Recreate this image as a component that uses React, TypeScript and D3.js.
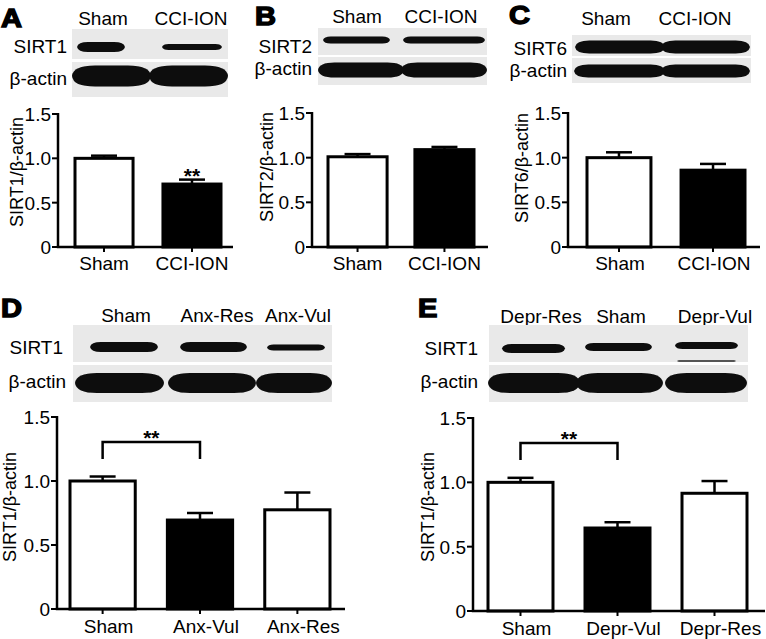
import React from "react";
import * as d3 from "d3";

const FONT = "'Liberation Sans', Arial, Helvetica, sans-serif";

// ---------- data ----------
const catsA = ["Sham", "CCI-ION"];
const valsA = [1.0, 0.71];
const errA = [0.03, 0.05];

const catsB = ["Sham", "CCI-ION"];
const valsB = [1.01, 1.09];
const errB = [0.03, 0.03];

const catsC = ["Sham", "CCI-ION"];
const valsC = [1.0, 0.86];
const errC = [0.06, 0.07];

const catsD = ["Sham", "Anx-Vul", "Anx-Res"];
const valsD = [1.0, 0.695, 0.775];
const errD = [0.035, 0.055, 0.135];

const catsE = ["Sham", "Depr-Vul", "Depr-Res"];
const valsE = [1.0, 0.645, 0.915];
const errE = [0.035, 0.045, 0.095];

const fills2 = ["white", "black"];
const fills3 = ["white", "black", "white"];

const yTickValues = [0, 0.5, 1.0, 1.5];
const yTickLabels = ["0", "0.5", "1.0", "1.5"];

const headersA = ["Sham", "CCI-ION"];
const headersD = ["Sham", "Anx-Res", "Anx-Vul"];
const headersE = ["Depr-Res", "Sham", "Depr-Vul"];

// ---------- layout ----------
type Panel = {
  cats: string[]; vals: number[]; errs: number[]; fills: string[];
  axisX0: number; axisX1: number; barStart: number; barEnd: number; pad: number;
  yZero: number; yTop: number; title: string; titleX: number; titleY: number;
  labelDy: number; labelDx: number; sig?: { from: number; to: number; y: number; leg: number; textY: number } | { bar: number; textY: number };
};

const panels: Panel[] = [
  { cats: catsA, vals: valsA, errs: errA, fills: fills2, axisX0: 58, axisX1: 233, barStart: 75, barEnd: 221, pad: 0.34,
    yZero: 247, yTop: 114, title: "SIRT1/β-actin", titleX: 17, titleY: 172, labelDy: 23, labelDx: 0, sig: { bar: 1, textY: 183 } },
  { cats: catsB, vals: valsB, errs: errB, fills: fills2, axisX0: 312, axisX1: 488, barStart: 328, barEnd: 474, pad: 0.32,
    yZero: 247, yTop: 113, title: "SIRT2/β-actin", titleX: 267, titleY: 167, labelDy: 23, labelDx: 0 },
  { cats: catsC, vals: valsC, errs: errC, fills: fills2, axisX0: 568, axisX1: 760, barStart: 587, barEnd: 745, pad: 0.32,
    yZero: 247, yTop: 113, title: "SIRT6/β-actin", titleX: 522, titleY: 168, labelDy: 23, labelDx: 1 },
  { cats: catsD, vals: valsD, errs: errD, fills: fills3, axisX0: 57, axisX1: 345, barStart: 70, barEnd: 330, pad: 0.33,
    yZero: 609, yTop: 417, title: "SIRT1/β-actin", titleX: 10, titleY: 507, labelDy: 24, labelDx: 6,
    sig: { from: 0, to: 1, y: 442, leg: 17, textY: 445 } },
  { cats: catsE, vals: valsE, errs: errE, fills: fills3, axisX0: 473, axisX1: 765, barStart: 488, barEnd: 747, pad: 0.33,
    yZero: 611, yTop: 418, title: "SIRT1/β-actin", titleX: 428, titleY: 507, labelDy: 24, labelDx: 6,
    sig: { from: 0, to: 1, y: 443, leg: 17, textY: 446 } },
];

type Band = { x0: number; x1: number; yc: number; h: number };
type Strip = { label: string; x0: number; x1: number; y0: number; y1: number; labelX: number; labelY: number; bands: Band[] };
type Blot = { letter: string; letterX: number; letterY: number; headers: string[]; headerX: number[]; headerY: number; strips: Strip[] };

const blots: Blot[] = [
  { letter: "A", letterX: 1, letterY: 27, headers: headersA, headerX: [103, 191], headerY: 25,
    strips: [
      { label: "SIRT1", x0: 72, x1: 228, y0: 29, y1: 59, labelX: 67, labelY: 53,
        bands: [{ x0: 77, x1: 125, yc: 47, h: 10 }, { x0: 162, x1: 222, yc: 47, h: 6 }] },
      { label: "β-actin", x0: 72, x1: 228, y0: 62, y1: 97, labelX: 67, labelY: 85,
        bands: [{ x0: 72, x1: 151, yc: 76, h: 21 }, { x0: 149, x1: 228, yc: 76, h: 21 }] },
    ] },
  { letter: "B", letterX: 255, letterY: 25, headers: headersA, headerX: [357, 441], headerY: 23,
    strips: [
      { label: "SIRT2", x0: 318, x1: 487, y0: 28, y1: 55, labelX: 312, labelY: 53,
        bands: [{ x0: 323, x1: 390, yc: 40, h: 7 }, { x0: 403, x1: 485, yc: 40, h: 7 }] },
      { label: "β-actin", x0: 318, x1: 487, y0: 57, y1: 85, labelX: 312, labelY: 75,
        bands: [{ x0: 318, x1: 404, yc: 70, h: 15 }, { x0: 401, x1: 487, yc: 70, h: 15 }] },
    ] },
  { letter: "C", letterX: 509, letterY: 24, headers: headersA, headerX: [606, 695], headerY: 25,
    strips: [
      { label: "SIRT6", x0: 572, x1: 751, y0: 35, y1: 56, labelX: 567, labelY: 55,
        bands: [{ x0: 575, x1: 665, yc: 47, h: 13 }, { x0: 661, x1: 750, yc: 47, h: 13 }] },
      { label: "β-actin", x0: 572, x1: 751, y0: 58, y1: 83, labelX: 567, labelY: 77,
        bands: [{ x0: 574, x1: 665, yc: 71, h: 13 }, { x0: 661, x1: 750, yc: 71, h: 13 }] },
    ] },
  { letter: "D", letterX: 1, letterY: 317, headers: headersD, headerX: [126, 217, 298], headerY: 322,
    strips: [
      { label: "SIRT1", x0: 73, x1: 332, y0: 325, y1: 362, labelX: 63, labelY: 354,
        bands: [{ x0: 90, x1: 158, yc: 347, h: 10 }, { x0: 180, x1: 247, yc: 347, h: 10 }, { x0: 267, x1: 325, yc: 347.5, h: 6 }] },
      { label: "β-actin", x0: 73, x1: 332, y0: 365, y1: 402, labelX: 66, labelY: 388,
        bands: [{ x0: 75, x1: 164, yc: 383, h: 20 }, { x0: 168, x1: 256, yc: 383, h: 20 }, { x0: 256, x1: 332, yc: 383, h: 20 }] },
    ] },
  { letter: "E", letterX: 418, letterY: 317, headers: headersE, headerX: [541, 621, 715], headerY: 323,
    strips: [
      { label: "SIRT1", x0: 489, x1: 748, y0: 325, y1: 362, labelX: 478, labelY: 355,
        bands: [{ x0: 502, x1: 565, yc: 348.5, h: 9 }, { x0: 585, x1: 652, yc: 347, h: 8 }, { x0: 675, x1: 738, yc: 345.5, h: 7 },
                { x0: 677, x1: 736, yc: 361, h: 2 }] },
      { label: "β-actin", x0: 489, x1: 748, y0: 365, y1: 402, labelX: 478, labelY: 388,
        bands: [{ x0: 488, x1: 580, yc: 383, h: 20 }, { x0: 576, x1: 663, yc: 383, h: 20 }, { x0: 665, x1: 747, yc: 383, h: 20 }] },
    ] },
];

function bandPath(b: Band) {
  const r = b.h / 2;
  const k = Math.min(b.h * 1.1, (b.x1 - b.x0) / 3);
  const p = d3.path();
  p.moveTo(b.x0, b.yc);
  p.quadraticCurveTo(b.x0 + 1, b.yc - r, b.x0 + k, b.yc - r);
  p.lineTo(b.x1 - k, b.yc - r);
  p.quadraticCurveTo(b.x1 - 1, b.yc - r, b.x1, b.yc);
  p.quadraticCurveTo(b.x1 - 1, b.yc + r, b.x1 - k, b.yc + r);
  p.lineTo(b.x0 + k, b.yc + r);
  p.quadraticCurveTo(b.x0 + 1, b.yc + r, b.x0, b.yc);
  p.closePath();
  return p.toString();
}

function BlotView({ b }: { b: Blot }) {
  return (
    <g>
      <text x={b.letterX} y={b.letterY} fontSize={26} fontWeight={900} stroke="black" strokeWidth={1.4} fill="black"
        fontFamily={FONT} transform={`translate(${b.letterX},0) scale(1.12,1) translate(${-b.letterX},0)`}>{b.letter}</text>
      {b.headers.map((h, i) => (
        <text key={i} x={b.headerX[i]} y={b.headerY} textAnchor="middle" fontSize={19} fontFamily={FONT}>{h}</text>
      ))}
      {b.strips.map((s, i) => (
        <g key={i}>
          <rect x={s.x0} y={s.y0} width={s.x1 - s.x0} height={s.y1 - s.y0} fill="#e9e9e9" />
          <text x={s.labelX} y={s.labelY} textAnchor="end" fontSize={19} fontFamily={FONT}>{s.label}</text>
          <g filter="url(#blur)">
            {s.bands.map((bd, j) => (
              <path key={j} d={bandPath(bd)} fill={bd.h < 3 ? "#555" : "#0b0b0b"} />
            ))}
          </g>
        </g>
      ))}
    </g>
  );
}

function PanelView({ p }: { p: Panel }) {
  const x = d3.scaleBand<string>().domain(p.cats).range([p.barStart, p.barEnd]).paddingInner(p.pad).paddingOuter(0);
  const y = d3.scaleLinear().domain([0, 1.5]).range([p.yZero, p.yTop]);
  const bw = x.bandwidth();
  const cap = 26;
  return (
    <g fontFamily={FONT}>
      {p.cats.map((c, i) => {
        const x0 = x(c)!;
        const cx = x0 + bw / 2;
        return (
          <g key={c}>
            <line x1={cx} x2={cx} y1={y(p.vals[i])} y2={y(p.vals[i] + p.errs[i])} stroke="black" strokeWidth={2.5} />
            <line x1={cx - cap / 2} x2={cx + cap / 2} y1={y(p.vals[i] + p.errs[i])} y2={y(p.vals[i] + p.errs[i])} stroke="black" strokeWidth={2.5} />
            <rect x={x0} y={y(p.vals[i])} width={bw} height={y(0) - y(p.vals[i])} fill={p.fills[i]} stroke="black" strokeWidth={3} />
            <line x1={cx} x2={cx} y1={y(0)} y2={y(0) + 5} stroke="black" strokeWidth={2} />
            <text x={cx + p.labelDx} y={y(0) + p.labelDy} textAnchor="middle" fontSize={19}>{c}</text>
          </g>
        );
      })}
      <line x1={p.axisX0} x2={p.axisX0} y1={y(1.5) - 1} y2={y(0)} stroke="black" strokeWidth={2.5} />
      <line x1={p.axisX0 - 1.2} x2={p.axisX1} y1={y(0)} y2={y(0)} stroke="black" strokeWidth={2.5} />
      {yTickValues.map((t, i) => (
        <g key={t}>
          <line x1={p.axisX0 - 6} x2={p.axisX0} y1={y(t)} y2={y(t)} stroke="black" strokeWidth={2} />
          <text x={p.axisX0 - 7} y={y(t)} dy="0.36em" textAnchor="end" fontSize={19}>{yTickLabels[i]}</text>
        </g>
      ))}
      <text transform={`translate(${p.titleX},${p.titleY}) rotate(-90)`} textAnchor="middle" dy="0.36em" fontSize={18}>{p.title}</text>
      {p.sig && "bar" in p.sig && (
        <text x={x(p.cats[p.sig.bar])! + bw / 2} y={p.sig.textY} textAnchor="middle" fontSize={21} fontWeight="bold">**</text>
      )}
      {p.sig && "from" in p.sig && (() => {
        const s = p.sig as { from: number; to: number; y: number; leg: number; textY: number };
        const xa = x(p.cats[s.from])! + bw / 2;
        const xb = x(p.cats[s.to])! + bw / 2;
        return (
          <g>
            <path d={`M${xa},${s.y + s.leg}V${s.y}H${xb}V${s.y + s.leg}`} fill="none" stroke="black" strokeWidth={2.5} />
            <text x={(xa + xb) / 2} y={s.textY} textAnchor="middle" fontSize={21} fontWeight="bold">**</text>
          </g>
        );
      })()}
    </g>
  );
}

export default function App() {
  return (
    <svg width={766} height={639} style={{ position: "absolute", left: 0, top: 0, background: "white" }}>
      <defs>
        <filter id="blur" x="-5%" y="-50%" width="110%" height="200%">
          <feGaussianBlur stdDeviation={0.7} />
        </filter>
      </defs>
      <rect width={766} height={639} fill="white" />
      {blots.map((b) => <BlotView key={b.letter} b={b} />)}
      {panels.map((p, i) => <PanelView key={i} p={p} />)}
    </svg>
  );
}
